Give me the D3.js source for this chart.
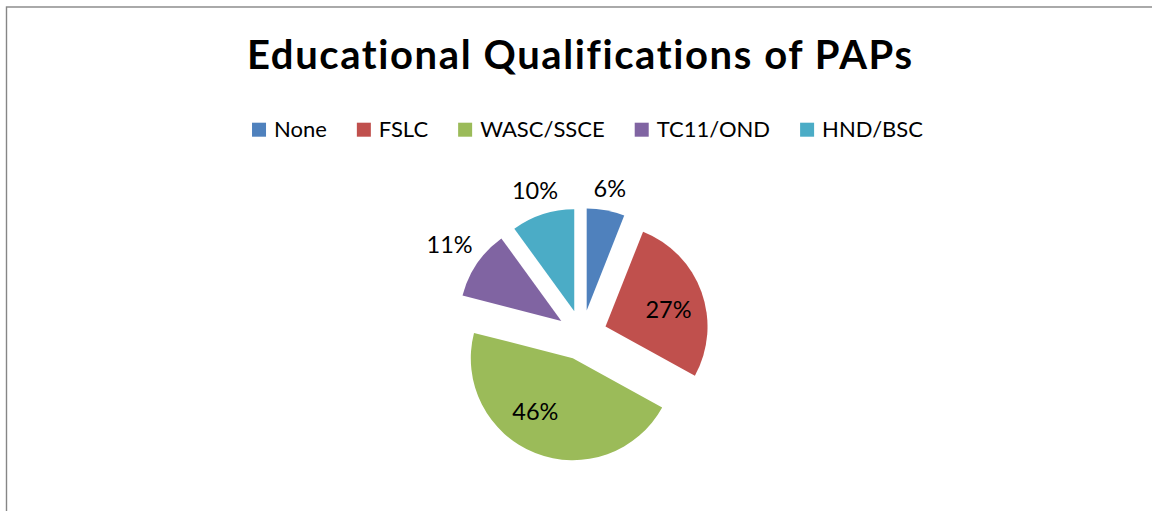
<!DOCTYPE html>
<html>
<head>
<meta charset="utf-8">
<script src="https://cdn.jsdelivr.net/npm/d3@7"></script>
<style>
  html, body { margin: 0; padding: 0; background: #ffffff; }
  svg { display: block; }
  text { font-family: Lato, "Open Sans", sans-serif; font-variant-ligatures: none; font-feature-settings: "liga" 0, "dlig" 0; }
</style>
</head>
<body>
<svg id="chart" width="1152" height="511"></svg>
<script>
// ---- data ----
const title = "Educational Qualifications of PAPs";
const categories = ["None", "FSLC", "WASC/SSCE", "TC11/OND", "HND/BSC"];
const values = [6, 27, 46, 11, 10];
const colors = ["#4F81BD", "#C0504D", "#9BBB59", "#8064A2", "#4BACC6"];
const labelPlacement = ["outside", "inside", "inside", "outside", "outside"];

// ---- layout ----
const W = 1152, H = 511;
const svg = d3.select("#chart");

// chart area border (left/top visible)
svg.append("rect")
  .attr("x", 6.5).attr("y", 7)
  .attr("width", W + 20).attr("height", H + 20)
  .attr("fill", "#ffffff")
  .attr("stroke", "#868686")
  .attr("stroke-width", 1.4);

// title
svg.append("text")
  .attr("x", 579.5).attr("y", 68.5)
  .attr("text-anchor", "middle")
  .attr("textLength", 665)
  .attr("lengthAdjust", "spacing")
  .style("font-weight", "bold")
  .style("font-size", "40px")
  .attr("fill", "#000")
  .text(title);

// legend
const legendFont = 22, sq = 14, sqGap = 8, itemGap = 30, legendBaseline = 136.7, legendCenter = 587.5;
const legend = svg.append("g");
const items = legend.selectAll("g").data(categories).join("g");
items.append("rect")
  .attr("width", sq).attr("height", sq)
  .attr("y", legendBaseline - sq)
  .attr("fill", (d, i) => colors[i]);
items.append("text")
  .attr("y", legendBaseline)
  .attr("x", sq + sqGap)
  .style("font-size", legendFont + "px")
  .attr("fill", "#000")
  .text(d => d);
let widths = [];
items.each(function() { widths.push(sq + sqGap + d3.select(this).select("text").node().getComputedTextLength()); });
const total = d3.sum(widths) + itemGap * (widths.length - 1);
let xpos = legendCenter - total / 2;
items.attr("transform", (d, i) => {
  const x = xpos; xpos += widths[i] + itemGap; return `translate(${x},0)`;
});

// pie
const cx = 582, cy = 335, r = 102, explode = 25;
const pie = d3.pie().sort(null).value(d => d)(values);
const arc = d3.arc().innerRadius(0).outerRadius(r);
const g = svg.append("g").attr("transform", `translate(${cx},${cy})`);
const total100 = d3.sum(values);

const slices = g.selectAll("g.slice").data(pie).join("g").attr("class", "slice")
  .attr("transform", d => {
    const m = (d.startAngle + d.endAngle) / 2;
    return `translate(${explode * Math.sin(m)},${-explode * Math.cos(m)})`;
  });
slices.append("path").attr("d", arc).attr("fill", (d, i) => colors[i]);

const labelFont = 23.5;
slices.append("text")
  .style("font-size", labelFont + "px")
  .attr("fill", "#000")
  .attr("text-anchor", "middle")
  .text(d => Math.round(d.data / total100 * 100) + "%")
  .each(function(d, i) {
    let m = (d.startAngle + d.endAngle) / 2;
    const w = this.getComputedTextLength();
    const h = labelFont * 0.9;
    let dist;
    if (labelPlacement[i] === "inside") {
      // best-fit nudges wide inside labels toward the wider part of the slice
      const span = d.endAngle - d.startAngle;
      m += span * span * 0.028;
      dist = r * 0.64;
    } else {
      dist = r + 8 + Math.abs(Math.sin(m)) * w / 2 + Math.abs(Math.cos(m)) * h / 2;
    }
    d3.select(this)
      .attr("x", dist * Math.sin(m))
      .attr("y", -dist * Math.cos(m))
      .attr("dy", "0.35em");
  });
</script>
</body>
</html>
